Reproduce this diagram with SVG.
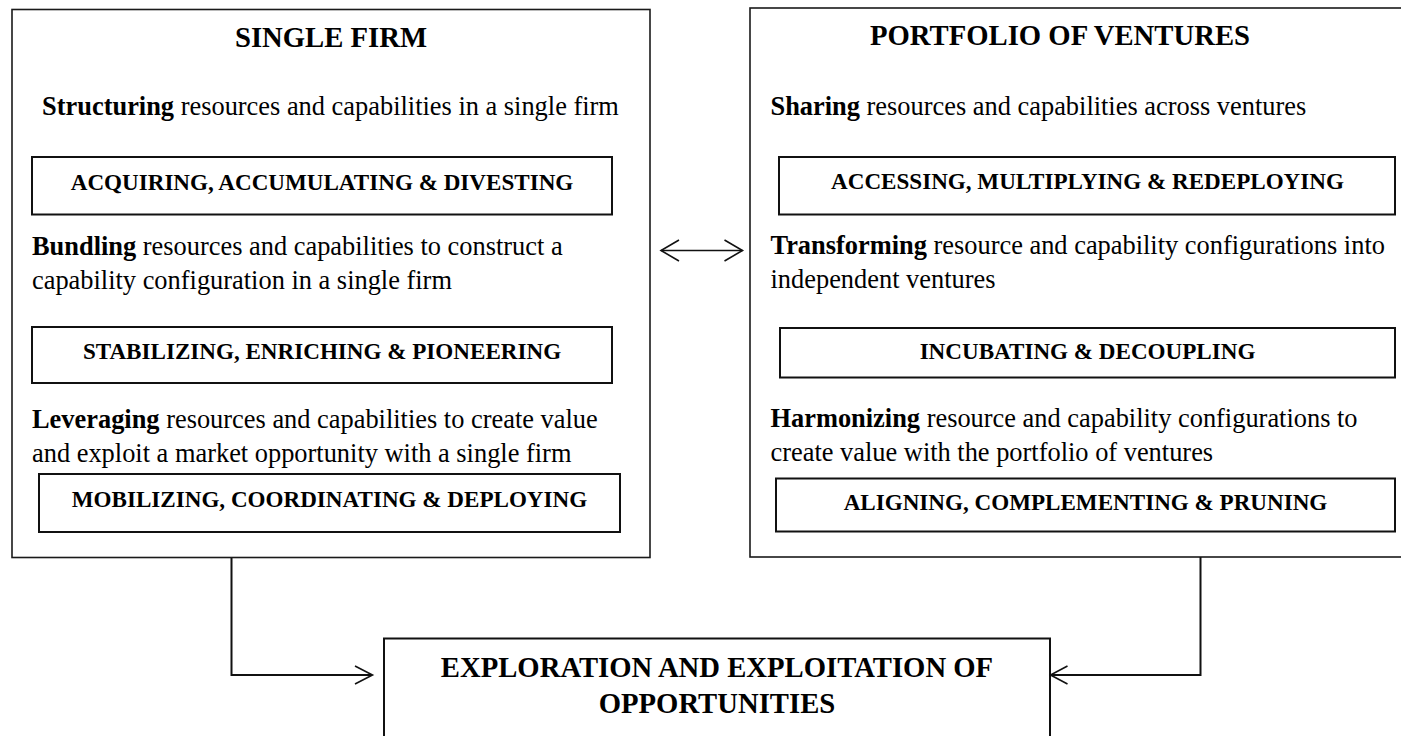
<svg xmlns="http://www.w3.org/2000/svg" width="1401" height="736" viewBox="0 0 1401 736">
<defs>
<style>
.outer{fill:#fff;stroke:#1a1a1a;stroke-width:1.6}
.inner{fill:#fff;stroke:#111;stroke-width:2}
.title{font-family:"Liberation Serif","Times New Roman",serif;font-weight:bold;font-size:28.7px;fill:#000}
.body{font-family:"Liberation Serif","Times New Roman",serif;font-size:26.4px;fill:#000}
.b{font-weight:bold}
.lab{font-family:"Liberation Serif","Times New Roman",serif;font-weight:bold;font-size:23.1px;fill:#000}
.conn{fill:none;stroke:#111;stroke-width:2}
.head{fill:none;stroke:#111;stroke-width:1.6}
</style>
</defs>
<rect width="1401" height="736" fill="#fff"/>

<g id="single-firm">
<rect class="outer" x="12" y="9.5" width="638" height="548"/>
<text class="title" x="331" y="46.5" text-anchor="middle">SINGLE FIRM</text>
<text class="body" x="330.5" y="115" text-anchor="middle"><tspan class="b">Structuring</tspan> resources and capabilities in a single firm</text>
<g id="acquiring">
<rect class="inner" x="32" y="157" width="580" height="57.5"/>
<text class="lab" x="322" y="190" text-anchor="middle">ACQUIRING, ACCUMULATING &amp; DIVESTING</text>
</g>
<text class="body" x="32" y="255"><tspan class="b">Bundling</tspan> resources and capabilities to construct a</text>
<text class="body" x="32" y="289">capability configuration in a single firm</text>
<g id="stabilizing">
<rect class="inner" x="32" y="327" width="580" height="56"/>
<text class="lab" x="322" y="359" text-anchor="middle">STABILIZING, ENRICHING &amp; PIONEERING</text>
</g>
<text class="body" x="32" y="428"><tspan class="b">Leveraging</tspan> resources and capabilities to create value</text>
<text class="body" x="32" y="462">and exploit a market opportunity with a single firm</text>
<g id="mobilizing">
<rect class="inner" x="39" y="474" width="581" height="58"/>
<text class="lab" x="329.5" y="507" text-anchor="middle">MOBILIZING, COORDINATING &amp; DEPLOYING</text>
</g>
</g>

<g id="portfolio">
<rect class="outer" x="750" y="8" width="660" height="549"/>
<text class="title" x="1060" y="44.5" text-anchor="middle">PORTFOLIO OF VENTURES</text>
<text class="body" x="770.5" y="115"><tspan class="b">Sharing</tspan> resources and capabilities across ventures</text>
<g id="accessing">
<rect class="inner" x="779" y="157" width="616" height="57.5"/>
<text class="lab" x="1087.5" y="189" text-anchor="middle">ACCESSING, MULTIPLYING &amp; REDEPLOYING</text>
</g>
<text class="body" x="770.5" y="254"><tspan class="b">Transforming</tspan> resource and capability configurations into</text>
<text class="body" x="770.5" y="287.5">independent ventures</text>
<g id="incubating">
<rect class="inner" x="780" y="328" width="615" height="49.5"/>
<text class="lab" x="1087.5" y="359" text-anchor="middle">INCUBATING &amp; DECOUPLING</text>
</g>
<text class="body" x="770.5" y="427"><tspan class="b">Harmonizing</tspan> resource and capability configurations to</text>
<text class="body" x="770.5" y="461">create value with the portfolio of ventures</text>
<g id="aligning">
<rect class="inner" x="776" y="478.5" width="619" height="53"/>
<text class="lab" x="1085.5" y="510" text-anchor="middle">ALIGNING, COMPLEMENTING &amp; PRUNING</text>
</g>
</g>

<g id="outcome">
<rect class="inner" x="384" y="638.5" width="666" height="110"/>
<text class="title" x="717" y="676.5" text-anchor="middle">EXPLORATION AND EXPLOITATION OF</text>
<text class="title" x="717" y="713" text-anchor="middle">OPPORTUNITIES</text>
</g>

<g id="connectors">
<line class="head" x1="661" y1="250.5" x2="742.5" y2="250.5"/>
<polyline class="head" points="679,240 661,250.5 679,261"/>
<polyline class="head" points="724.5,240 742.5,250.5 724.5,261"/>
<polyline class="conn" points="231.5,558 231.5,675 372,675"/>
<polyline class="head" points="355,666 372.5,675 355,684"/>
<polyline class="conn" points="1200.5,557 1200.5,675 1051,675"/>
<polyline class="head" points="1067.5,666 1050.5,675 1067.5,684"/>
</g>
</svg>
